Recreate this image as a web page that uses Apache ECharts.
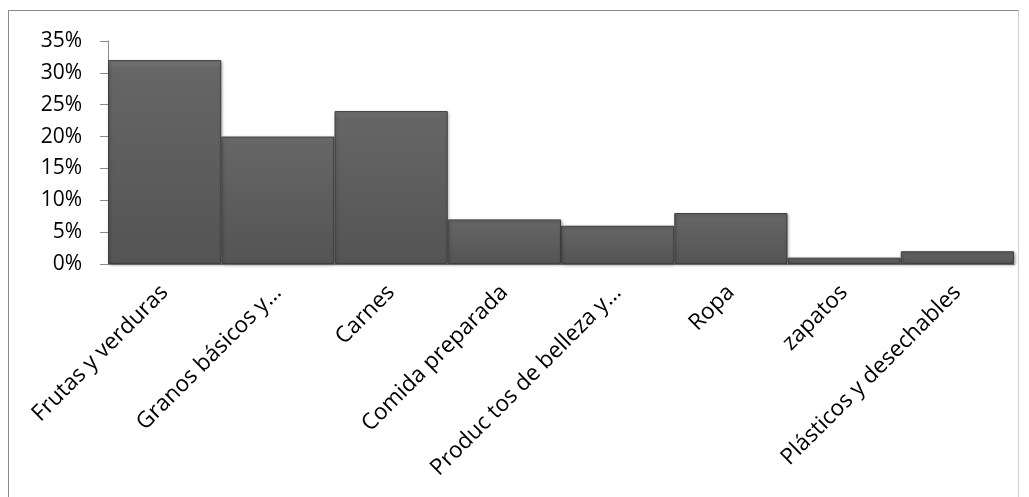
<!DOCTYPE html>
<html>
<head>
<meta charset="utf-8">
<script src="https://cdn.jsdelivr.net/npm/echarts@6/dist/echarts.min.js"></script>
<style>
  html, body { margin: 0; padding: 0; background: #fff; }
  #wrap { position: relative; width: 1029px; height: 497px; overflow: hidden; }
  #frame { position: absolute; left: 8px; top: 10px; width: 1011px; height: 500px;
           border: 1px solid #8a8a8a; border-right-color: #d0d0d0; box-sizing: border-box; }
  #chart { position: absolute; left: 0; top: 0; width: 1029px; height: 497px; }
</style>
</head>
<body>
<div id="wrap">
  <div id="frame"></div>
  <div id="chart"></div>
</div>
<script>
// categorias y porcentajes
var categorias = ['Frutas y verduras', 'Granos básicos y…', 'Carnes', 'Comida preparada',
                  'Produc tos de belleza y…', 'Ropa', 'zapatos', 'Plásticos y desechables'];
var porcentajes = [32, 20, 24, 7, 6, 8, 1, 2];

var grafica = echarts.init(document.getElementById('chart'));

var option = {
    animation: false,
    grid: { left: 108, right: 15, top: 41, bottom: 233 },
    xAxis: {
        type: 'category',
        data: categorias,
        axisLine: { lineStyle: { color: '#8a8a8a', width: 1 } },
        axisTick: { show: false },
        axisLabel: {
            rotate: 45,
            interval: 0,
            margin: 25,
            color: '#000',
            fontFamily: 'Open Sans',
            fontSize: 22.5
        }
    },
    yAxis: {
        type: 'value',
        min: 0,
        max: 35,
        interval: 5,
        splitLine: { show: false },
        axisLine: { show: true, lineStyle: { color: '#8a8a8a', width: 1 } },
        axisTick: { show: true, inside: false, length: 8, lineStyle: { color: '#8a8a8a' } },
        axisLabel: {
            margin: 26,
            color: '#000',
            fontFamily: 'Open Sans',
            fontSize: 21,
            formatter: '{value}%'
        }
    },
    series: [{
        type: 'bar',
        data: porcentajes,
        barCategoryGap: 0,
        itemStyle: {
            color: {
                type: 'linear', x: 0, y: 0, x2: 0, y2: 1,
                colorStops: [
                    { offset: 0, color: '#7a7a7a' },
                    { offset: 0.04, color: '#666666' },
                    { offset: 1, color: '#545454' }
                ]
            },
            borderColor: '#3f3f3f',
            borderWidth: 1,
            shadowColor: 'rgba(0,0,0,0.35)',
            shadowBlur: 3,
            shadowOffsetX: 1,
            shadowOffsetY: 1
        }
    }]
};

grafica.setOption(option);
</script>
</body>
</html>
